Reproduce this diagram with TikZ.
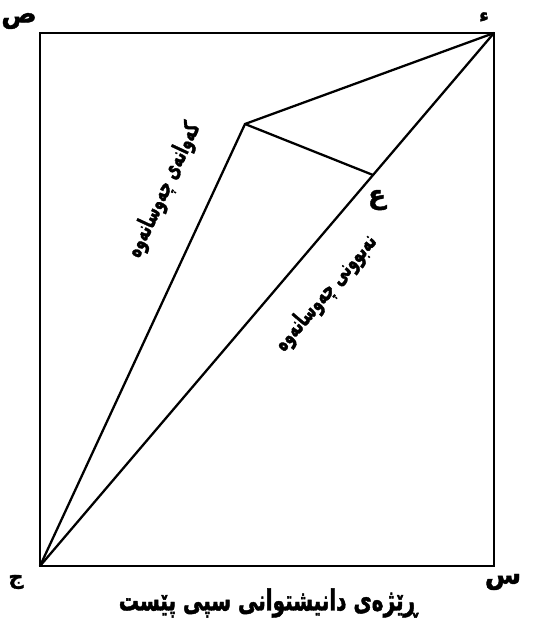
\documentclass[tikz,border=0pt]{standalone}
\usepackage{fontspec}
\TeXXeTstate=1
\newfontfamily\heavyfont[Script=Arabic,FakeBold=1.5]{DejaVu Sans Bold}
\newfontfamily\narrowfont[Script=Arabic,FakeStretch=0.62,FakeBold=1.5]{DejaVu Sans Bold}
\newfontfamily\titlefont[Script=Arabic,FakeStretch=0.69,FakeBold=1.5]{DejaVu Sans Bold}
\tikzset{
  frame/.style={line width=1.5pt},
  curve/.style={line width=1.3pt},
  lbl/.style={font=\heavyfont\fontsize{15}{17}\selectfont},
  slanted/.style={font=\narrowfont\fontsize{13.5}{15}\selectfont},
}
\begin{document}
\begin{tikzpicture}[x=0.02cm,y=-0.02cm]
  \useasboundingbox (0,0) rectangle (538,628);
  % Corners of the square
  \coordinate (sad) at (40,33);
  \coordinate (hamza) at (494,33);
  \coordinate (jim) at (40,566);
  \coordinate (sin) at (494,566);
  % Curve and diagonal points
  \coordinate (apex) at (245,124);
  \coordinate (ain) at (373,175);
  \draw[frame] (jim) -- (sin) -- (hamza) -- (sad) -- cycle;
  \draw[curve] (jim) -- (hamza);
  \draw[curve] (jim) -- (apex) -- (hamza);
  \draw[curve] (apex) -- (ain);
  % Letters at the corners
  \node[lbl] (sadlbl) at (19,21) {\beginR ص\endR};
  \node[lbl,font=\heavyfont\fontsize{11}{13}\selectfont] (hamzalbl) at (484,17) {\beginR ء\endR};
  \node[lbl,font=\heavyfont\fontsize{12}{14}\selectfont] (jimlbl) at (16,582) {\beginR ج\endR};
  \node[lbl] (sinlbl) at (503,582) {\beginR س\endR};
  \node[lbl] (ainlbl) at (377,200) {\beginR ع\endR};
  % Labels along the lines
  \node[slanted,rotate=65] (curvelbl) at (164,190) {\beginR کەوانەی چەوسانەوە\endR};
  \node[slanted,rotate=49.6] (diaglbl) at (326,293) {\beginR نەبوونی چەوسانەوە\endR};
  % Axis title
  \node[font=\titlefont\fontsize{16.5}{19}\selectfont] (title) at (268,603) {\beginR ڕێژەی دانیشتوانی سپی پێست\endR};
\end{tikzpicture}
\end{document}
